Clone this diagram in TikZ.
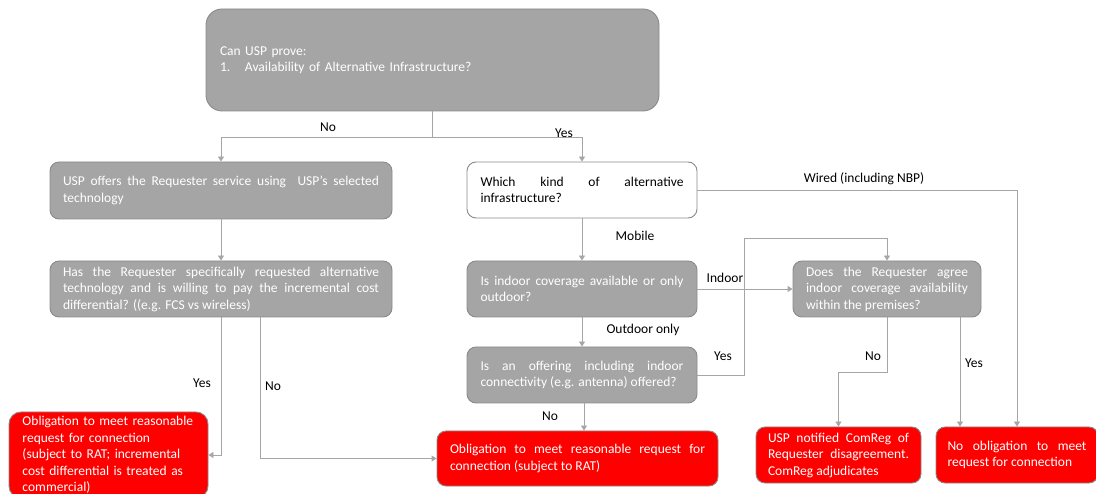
\documentclass[tikz,border=0pt]{standalone}
\usepackage{fontspec}
\setmainfont{Carlito}
\usetikzlibrary{arrows.meta}
\definecolor{boxgray}{HTML}{A5A5A5}
\definecolor{edgegray}{HTML}{8A8A8A}
\definecolor{linegray}{HTML}{A6A6A6}
\hyphenpenalty=10000
\exhyphenpenalty=10000
\begin{document}
\begin{tikzpicture}[x=1pt,y=-1pt,
  box/.style={draw=edgegray, line width=0.9pt, rounded corners=9pt, inner sep=0pt,
    text=white, font=\fontsize{13.5}{16.5}\selectfont, align=justify},
  gbox/.style={box, fill=boxgray},
  rbox/.style={box, fill=red},
  wbox/.style={box, fill=white, text=black},
  conn/.style={draw=linegray, line width=0.9pt},
  arr/.style={conn, -{Triangle[width=6pt,length=5pt]}},
  lbl/.style={font=\fontsize{13.5}{16.5}\selectfont, text=black, inner sep=0pt}
]
\clip (0,0) rectangle (1096,494);

% boxes
\node[gbox, rounded corners=16pt, minimum width=453pt, minimum height=102pt, text width=425pt, align=left]
  (top) at (432.5,60) {Can USP prove:\\\makebox[25pt][l]{1.}Availability of Alternative Infrastructure?};

\node[gbox, minimum width=342pt, minimum height=57pt, text width=316pt]
  (L1) at (221,190.5) {USP offers the Requester service using\ \ USP's selected\linebreak technology};
\node[gbox, minimum width=342pt, minimum height=56pt, text width=316pt]
  (L2) at (221,289) {Has the Requester specifically requested alternative\linebreak technology and is willing to pay the incremental cost\linebreak differential? ((e.g. FCS vs wireless)};

\node[wbox, minimum width=230pt, minimum height=56pt, text width=203pt]
  (M1) at (582,190) {Which kind of alternative\linebreak infrastructure?};
\node[gbox, minimum width=230pt, minimum height=56pt, text width=203pt]
  (M2) at (582,289) {Is indoor coverage available or only\linebreak outdoor?};
\node[gbox, minimum width=230pt, minimum height=56pt, text width=203pt]
  (M3) at (582,375) {Is an offering including indoor\linebreak connectivity (e.g. antenna) offered?};
\node[gbox, minimum width=188pt, minimum height=56pt, text width=162pt]
  (DR) at (887,289) {Does the Requester agree\linebreak indoor coverage availability\linebreak within the premises?};

\node[rbox, rounded corners=12pt, minimum width=199pt, minimum height=86pt, text width=172pt, align=left]
  (R1) at (108.5,455) {Obligation to meet reasonable\\request for connection\\(subject to RAT; incremental\\cost differential is treated as\\commercial)};
\node[rbox, minimum width=281pt, minimum height=55pt, text width=255pt]
  (R2) at (577.5,458.5) {Obligation to meet reasonable request for\linebreak connection (subject to RAT)};
\node[rbox, minimum width=165pt, minimum height=56pt, text width=141pt]
  (R3) at (838.5,455) {USP notified ComReg of\linebreak Requester disagreement.\linebreak ComReg adjudicates};
\node[rbox, minimum width=162pt, minimum height=56pt, text width=139pt]
  (R4) at (1017,455) {No obligation to meet\linebreak request for connection};

% connectors
\coordinate (split) at (432.5,137);
\draw[conn] (top.south) -- (split);
\draw[arr] (split) -| (L1.north);
\draw[arr] (split) -| (M1.north);
\draw[arr] (L1.south) -- (L2.north);
\draw[arr] (L2.south) |- (R1.east);
\draw[arr] ([xshift=39pt]L2.south) |- (R2.west);
\draw[arr] (M1.south) -- (M2.north);
\draw[arr] (M1.east) -| (R4.north);
\draw[arr] (M2.east) -- (DR.west);
\draw[arr] (M2.south) -- (M3.north);
\coordinate (loop) at (744,238);
\draw[arr] (M3.east) -| (loop) -| (DR.north);
\draw[arr] ([xshift=2pt]M3.south) -- ([xshift=2pt]M3.south |- R2.north);
\coordinate (bend) at (887,372);
\draw[arr] (DR.south) -- (bend) -| (R3.north);
\draw[arr] ([xshift=73pt]DR.south) -- ([xshift=73pt]DR.south |- R4.north);

% labels
\node[lbl] (lNo1) at (328,127) {No};
\node[lbl] (lYes1) at (564,133) {Yes};
\node[lbl] (lYes2) at (202,383) {Yes};
\node[lbl] (lNo2) at (273,386) {No};
\node[lbl] (lMob) at (635,236) {Mobile};
\node[lbl] (lWired) at (864,179) {Wired (including NBP)};
\node[lbl] (lIndoor) at (725,278) {Indoor};
\node[lbl] (lOut) at (643,330) {Outdoor only};
\node[lbl] (lYes3) at (723,356) {Yes};
\node[lbl] (lNo3) at (550,416) {No};
\node[lbl] (lNo4) at (873,356) {No};
\node[lbl] (lYes4) at (974,363) {Yes};
\end{tikzpicture}
\end{document}
